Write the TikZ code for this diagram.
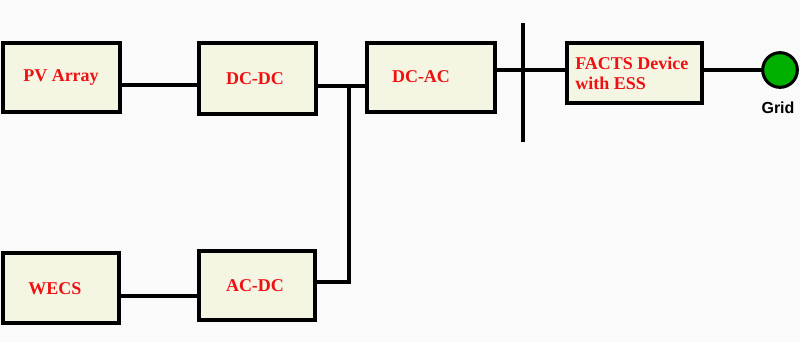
\documentclass[tikz,border=0pt]{standalone}
\usepackage{fontspec}
\usetikzlibrary{calc}
\setmainfont{Liberation Serif}
\newfontfamily\gridfont{Liberation Sans}
\definecolor{bg}{HTML}{FAFAFA}
\definecolor{boxfill}{HTML}{F5F5E4}
\definecolor{txtred}{HTML}{EE1111}
\definecolor{gridgreen}{HTML}{00B000}
\begin{document}
\begin{tikzpicture}[x=0.75pt,y=-0.75pt,
  blk/.style={draw=black,line width=3pt,fill=boxfill,inner sep=0pt,outer sep=0pt},
  lbl/.style={text=txtred,font=\fontsize{13.5}{15}\selectfont\bfseries,inner sep=0pt},
  wire/.style={line width=2.3pt,line cap=rect}]
\fill[bg] (0,0) rectangle (800,342);
\useasboundingbox (0,0) rectangle (800,342);
% boxes
\node[blk,minimum width=87.75pt,minimum height=51.75pt] (pv) at (61.5,77.5) {};
\node[blk,minimum width=87.75pt,minimum height=53.25pt] (dcdc) at (257.5,78.5) {};
\node[blk,minimum width=96pt,minimum height=51.75pt] (dcac) at (431,77.5) {};
\node[blk,minimum width=101.25pt,minimum height=45pt] (facts) at (634.5,73) {};
\node[blk,minimum width=87pt,minimum height=52.5pt] (wecs) at (61,288) {};
\node[blk,minimum width=87pt,minimum height=51.75pt] (acdc) at (257,285.5) {};
% labels
\node[lbl] (pvl) at (61,78) {PV Array};
\node[lbl] (dcdcl) at (255,79) {DC-DC};
\node[lbl] (dcacl) at (421,77) {DC-AC};
\node[lbl,align=left,anchor=west] (factsl) at (575,73) {FACTS Device\\with ESS};
\node[lbl] (wecsl) at (55,289) {WECS};
\node[lbl] (acdcl) at (255,286) {AC-DC};
% junction and bus
\coordinate (junc) at (349,86);
\coordinate (juncB) at (349,282);
\coordinate (busT) at (523,25);
\coordinate (busB) at (523,140);
\coordinate (busM) at (523,70);
% grid
\node[circle,draw=black,line width=2.3pt,fill=gridgreen,minimum size=26pt,inner sep=0pt] (grid) at (780,70) {};
\node[font=\gridfont\fontsize{12}{14}\selectfont\bfseries,inner sep=0pt] (gridl) at (778,108) {Grid};
% wires
\begin{scope}[on background layer/.style={}]
\draw[wire] ($(pv.east)+(1.5,7.5)$) -- ($(dcdc.west)+(-1.5,6.5)$);
\draw[wire] ($(dcdc.east)+(1.5,7.5)$) -- ($(dcac.west)+(-1.5,8.5)$);
\draw[wire] (junc) -- (juncB) -- ($(acdc.east)+(1.5,-3.5)$);
\draw[wire] ($(wecs.east)+(1.5,8)$) -- ($(acdc.west)+(-1.5,10.5)$);
\draw[wire] ($(dcac.east)+(1.5,-7.5)$) -- (busM) -- ($(facts.west)+(-1.5,-3)$);
\draw[wire] (busT) -- (busB);
\draw[wire] ($(facts.east)+(1.5,-3)$) -- (grid.west);
\end{scope}
\end{tikzpicture}
\end{document}
